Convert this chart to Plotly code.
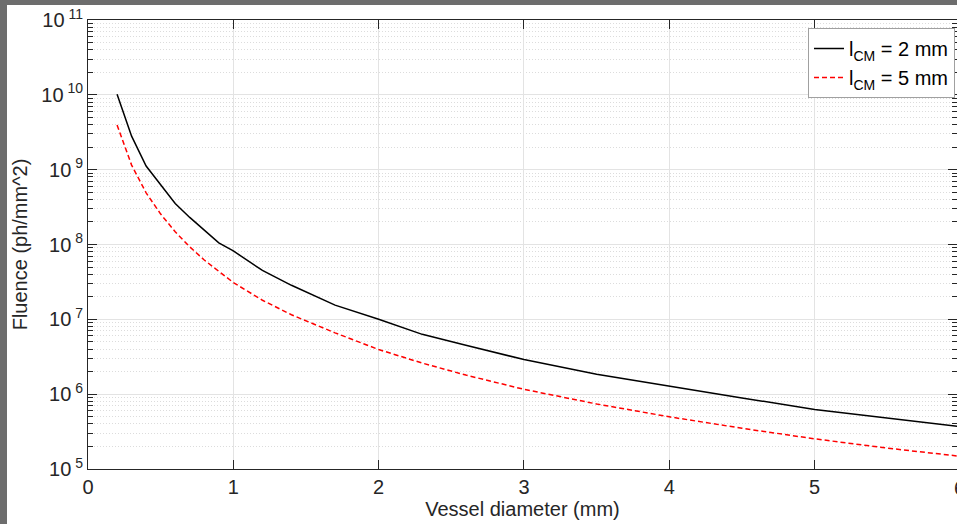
import plotly.graph_objects as go

# Vessel diameter (mm)
diameter = [0.2, 0.3, 0.4, 0.5, 0.6, 0.7, 0.8, 0.9, 1.0, 1.2, 1.4, 1.7, 2.0,
            2.3, 2.6, 3.0, 3.5, 4.0, 4.5, 5.0, 5.5, 6.0]
# Fluence (ph/mm^2), l_CM = 2 mm
fluence_2mm = [1.02e10, 2.8e9, 1.12e9, 6.2e8, 3.54e8, 2.3e8, 1.56e8, 1.05e8, 8.2e7,
               4.5e7, 2.85e7, 1.55e7, 1.0e7, 6.3e6, 4.5e6, 2.9e6, 1.85e6, 1.27e6,
               8.9e5, 6.25e5, 4.8e5, 3.7e5]
# Fluence (ph/mm^2), l_CM = 5 mm
fluence_5mm = [3.95e9, 1.15e9, 4.9e8, 2.55e8, 1.48e8, 9.3e7, 6.2e7, 4.4e7, 3.1e7,
               1.8e7, 1.15e7, 6.6e6, 3.95e6, 2.6e6, 1.8e6, 1.16e6, 7.4e5, 4.98e5,
               3.5e5, 2.53e5, 1.9e5, 1.48e5]

x_ticks = [0, 1, 2, 3, 4, 5, 6]
y_tickvals = [1e5, 1e6, 1e7, 1e8, 1e9, 1e10, 1e11]
y_ticktext = ["10<sup> 5</sup>", "10<sup> 6</sup>", "10<sup> 7</sup>", "10<sup> 8</sup>",
              "10<sup> 9</sup>", "10<sup> 10</sup>", "10<sup> 11</sup>"]

W, H = 957, 524
L, R, T, B = 88, 0, 20, 55
pw, ph = W - L - R, H - T - B
px_per_unit = 145.33

FONT = "Liberation Sans, Arial, sans-serif"
AX = "#262626"

fig = go.Figure()
fig.add_trace(go.Scatter(x=diameter, y=fluence_2mm, mode="lines",
                         line=dict(color="black", width=1.5),
                         name="l<sub>CM</sub> = 2 mm"))
fig.add_trace(go.Scatter(x=diameter, y=fluence_5mm, mode="lines",
                         line=dict(color="#ff0000", width=1.5, dash="5px,3px"),
                         name="l<sub>CM</sub> = 5 mm"))

# white figure area over dark gray window background
fig.add_shape(type="rect", xref="paper", yref="paper", layer="below",
              x0=(7 - L) / pw, x1=1.05, y0=-0.2, y1=(H - B - 5) / ph,
              fillcolor="white", line=dict(width=0))

# partially visible tick label "6" at the clipped right edge
fig.add_annotation(xref="paper", yref="paper",
                   x=(6 * px_per_unit) / pw, y=-(488 - (H - B)) / ph,
                   text="6", showarrow=False, xanchor="center", yanchor="middle",
                   font=dict(family=FONT, size=20, color=AX))

fig.update_layout(
    width=W, height=H,
    margin=dict(l=L, r=R, t=T, b=B, autoexpand=False),
    paper_bgcolor="#6d6d6d",
    plot_bgcolor="white",
    font=dict(family=FONT, size=20, color=AX),
    showlegend=True,
    legend=dict(x=(955 - L) / pw, y=(H - B - 28) / ph, xanchor="right", yanchor="top",
                bgcolor="white", bordercolor="#a0a0a0", borderwidth=1,
                font=dict(family=FONT, size=20, color="black"),
                itemwidth=30, tracegroupgap=0),
    xaxis=dict(range=[0, pw / px_per_unit], tickvals=x_ticks,
               ticks="inside", ticklen=9, tickcolor=AX, tickwidth=1,
               showline=True, linecolor=AX, linewidth=1, mirror="ticks",
               showgrid=True, gridcolor="#e3e3e3", gridwidth=1, zeroline=False,
               tickfont=dict(size=20, color=AX),
               title=dict(text="Vessel diameter (mm)", font=dict(size=20, color=AX), standoff=4)),
    yaxis=dict(type="log", range=[5, 11], tickvals=y_tickvals, ticktext=y_ticktext,
               ticks="inside", ticklen=9, tickcolor=AX, tickwidth=1,
               showline=True, linecolor=AX, linewidth=1, mirror="ticks",
               showgrid=True, gridcolor="#e3e3e3", gridwidth=1, zeroline=False,
               tickfont=dict(size=20, color=AX),
               minor=dict(dtick="D1", ticks="inside", ticklen=5, tickcolor=AX,
                          showgrid=True, gridcolor="#dcdcdc", griddash="1px,2px", gridwidth=1),
               title=dict(text="Fluence (ph/mm^2)", font=dict(size=20, color=AX), standoff=8)),
)

fig.write_html("out.html",
               config={"displayModeBar": False},
               post_script="document.body.style.margin='0';document.body.style.overflow='hidden';")
